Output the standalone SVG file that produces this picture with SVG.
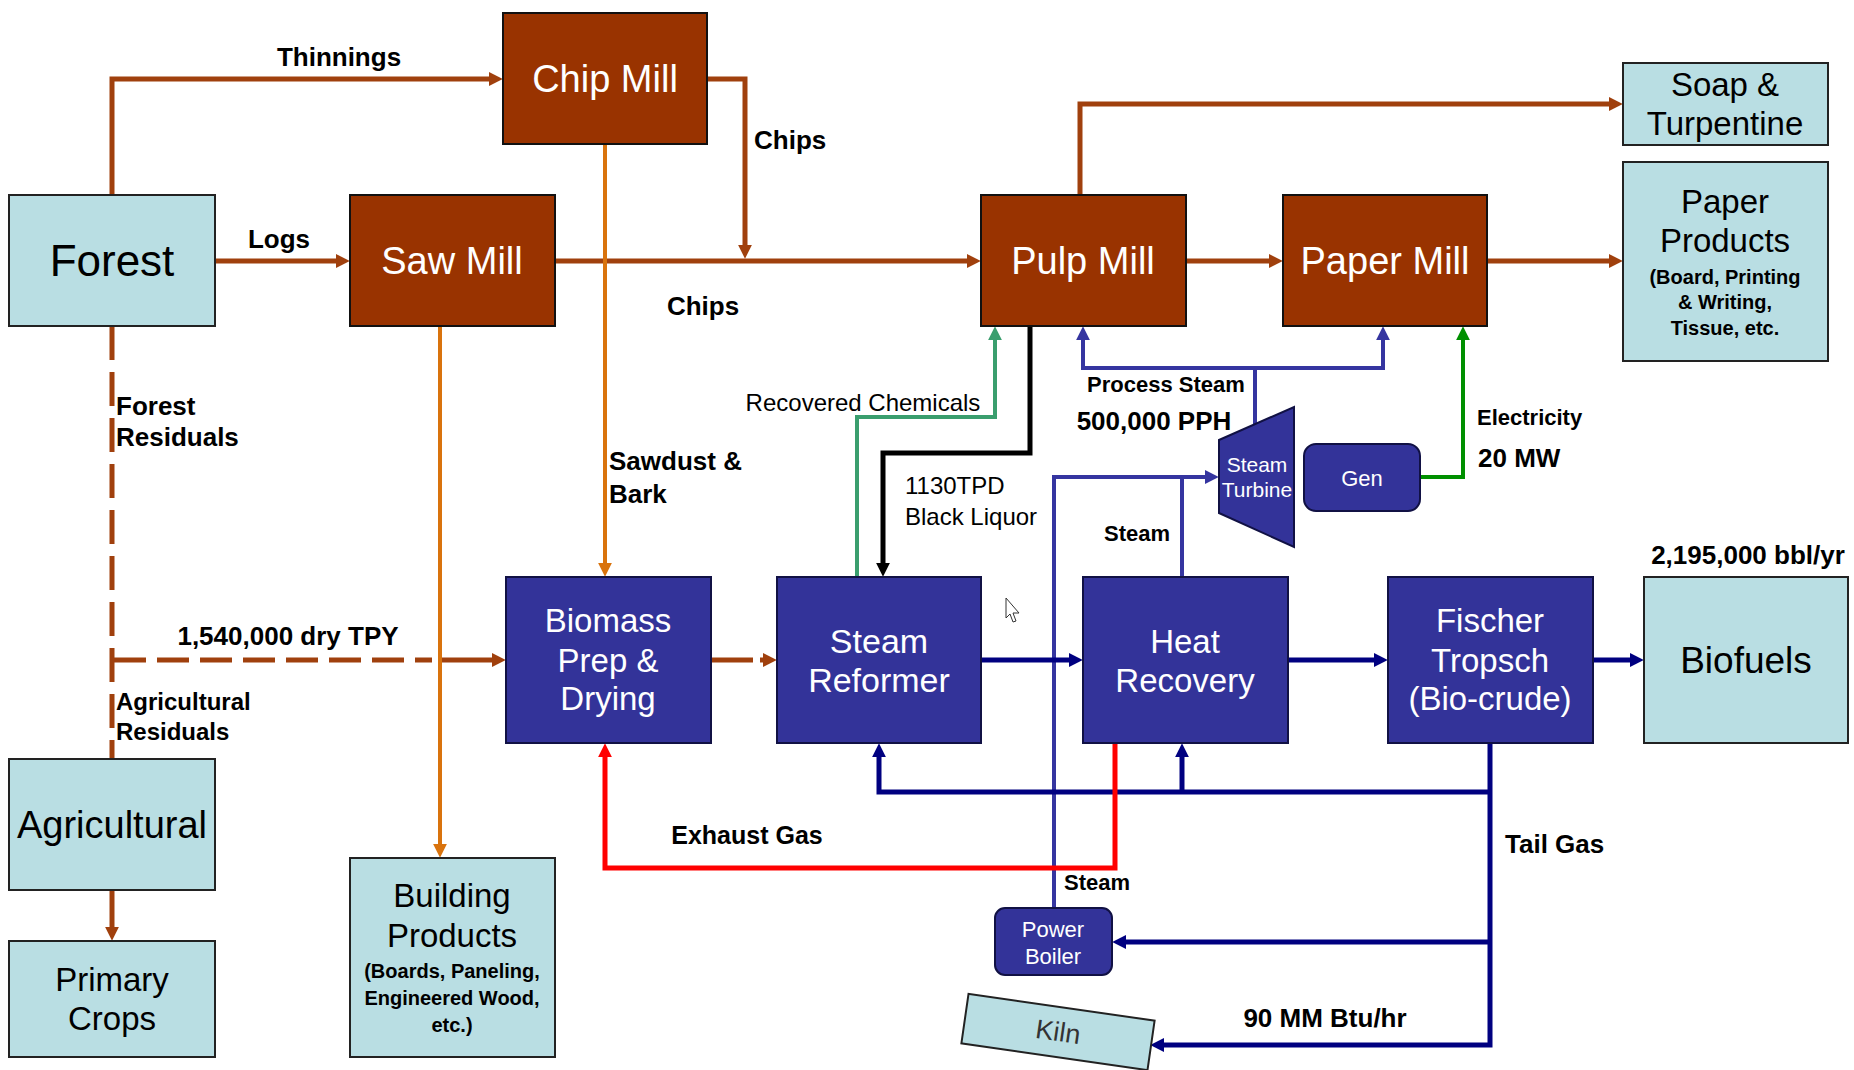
<svg xmlns="http://www.w3.org/2000/svg" width="1854" height="1070" viewBox="0 0 1854 1070">
<style>
text{font-family:"Liberation Sans",Arial,sans-serif}
.lb{fill:#B9DEE3;stroke:#222;stroke-width:2}
.br{fill:#993300;stroke:#111;stroke-width:2}
.bl{fill:#333399;stroke:#111144;stroke-width:2}
.tw{fill:#fff;text-anchor:middle}
.tk{fill:#000;text-anchor:middle}
.e{font-weight:bold;fill:#000}
.n{fill:#000}
.c{fill:none;stroke-linejoin:miter}
.brn{stroke:#A0400D;stroke-width:5}
.org{stroke:#D9730D;stroke-width:4}
.tea{stroke:#3A9E6E;stroke-width:4}
.blk{stroke:#000;stroke-width:5}
.blu{stroke:#3535A0;stroke-width:4}
.nav{stroke:#000080;stroke-width:5}
.grn{stroke:#009000;stroke-width:4}
.red{stroke:#FF0000;stroke-width:5}
</style>
<defs>
<marker id="aBrn" viewBox="0 0 10 10" refX="3" refY="5" markerUnits="userSpaceOnUse" markerWidth="14" markerHeight="14" orient="auto"><path d="M0,0 L10,5 L0,10 z" fill="#A0400D"/></marker>
<marker id="aOrg" viewBox="0 0 10 10" refX="3" refY="5" markerUnits="userSpaceOnUse" markerWidth="14" markerHeight="14" orient="auto"><path d="M0,0 L10,5 L0,10 z" fill="#D9730D"/></marker>
<marker id="aTea" viewBox="0 0 10 10" refX="3" refY="5" markerUnits="userSpaceOnUse" markerWidth="14" markerHeight="14" orient="auto"><path d="M0,0 L10,5 L0,10 z" fill="#3A9E6E"/></marker>
<marker id="aBlk" viewBox="0 0 10 10" refX="3" refY="5" markerUnits="userSpaceOnUse" markerWidth="14" markerHeight="14" orient="auto"><path d="M0,0 L10,5 L0,10 z" fill="#000"/></marker>
<marker id="aBlu" viewBox="0 0 10 10" refX="3" refY="5" markerUnits="userSpaceOnUse" markerWidth="14" markerHeight="14" orient="auto"><path d="M0,0 L10,5 L0,10 z" fill="#3535A0"/></marker>
<marker id="aNav" viewBox="0 0 10 10" refX="3" refY="5" markerUnits="userSpaceOnUse" markerWidth="14" markerHeight="14" orient="auto"><path d="M0,0 L10,5 L0,10 z" fill="#000080"/></marker>
<marker id="aGrn" viewBox="0 0 10 10" refX="3" refY="5" markerUnits="userSpaceOnUse" markerWidth="14" markerHeight="14" orient="auto"><path d="M0,0 L10,5 L0,10 z" fill="#009000"/></marker>
<marker id="aRed" viewBox="0 0 10 10" refX="3" refY="5" markerUnits="userSpaceOnUse" markerWidth="14" markerHeight="14" orient="auto"><path d="M0,0 L10,5 L0,10 z" fill="#FF0000"/></marker>
</defs>
<rect width="1854" height="1070" fill="#fff"/>

<g id="connectors">
<path class="c brn" d="M112,195 V79 H493" marker-end="url(#aBrn)"/>
<path class="c brn" d="M215,261 H340" marker-end="url(#aBrn)"/>
<path class="c brn" d="M707,79 H745 V249" marker-end="url(#aBrn)"/>
<path class="c brn" d="M555,261 H971" marker-end="url(#aBrn)"/>
<path class="c brn" d="M1080,195 V104 H1613" marker-end="url(#aBrn)"/>
<path class="c brn" d="M1186,261 H1273" marker-end="url(#aBrn)"/>
<path class="c brn" d="M1487,261 H1613" marker-end="url(#aBrn)"/>
<path class="c brn" d="M112,890 V931" marker-end="url(#aBrn)"/>
<path class="c brn" d="M112,326 V759" stroke-dasharray="34 12"/>
<path class="c brn" d="M114,660 H432" stroke-dasharray="32 11"/>
<path class="c brn" d="M442,660 H496" marker-end="url(#aBrn)"/>
<path class="c brn" d="M711,660 H753"/>
<path class="c brn" d="M760,660 H767" marker-end="url(#aBrn)"/>
<path class="c org" d="M605,144 V567" marker-end="url(#aOrg)"/>
<path class="c org" d="M440,326 V848" marker-end="url(#aOrg)"/>
<path class="c tea" d="M857,577 V417 H995 V336" marker-end="url(#aTea)"/>
<path class="c blk" d="M1030,326 V453 H883 V567" marker-end="url(#aBlk)"/>
<path class="c blu" d="M1255,426 V368"/>
<path class="c blu" d="M1257,368 H1083 V336" marker-end="url(#aBlu)"/>
<path class="c blu" d="M1253,368 H1383 V336" marker-end="url(#aBlu)"/>
<path class="c blu" d="M1054,908 V477 H1209" marker-end="url(#aBlu)"/>
<path class="c blu" d="M1182,577 V477"/>
<path class="c grn" d="M1420,477 H1463 V336" marker-end="url(#aGrn)"/>
<path class="c nav" d="M981,660 H1073" marker-end="url(#aNav)"/>
<path class="c nav" d="M1288,660 H1378" marker-end="url(#aNav)"/>
<path class="c nav" d="M1593,660 H1634" stroke-width="6" marker-end="url(#aNav)"/>
<path class="c nav" d="M1490,743 V1045 H1160" marker-end="url(#aNav)"/>
<path class="c nav" d="M1490,792 H879 V753" marker-end="url(#aNav)"/>
<path class="c nav" d="M1182,792 V753" marker-end="url(#aNav)"/>
<path class="c nav" d="M1490,942 H1122" marker-end="url(#aNav)"/>
<path class="c red" d="M1115,743 V868 H605 V753" marker-end="url(#aRed)"/>
</g>

<g id="labels">
<text class="e" x="339" y="66" font-size="26" text-anchor="middle">Thinnings</text>
<text class="e" x="279" y="248" font-size="26" text-anchor="middle">Logs</text>
<text class="e" x="754" y="149" font-size="26">Chips</text>
<text class="e" x="703" y="315" font-size="26" text-anchor="middle">Chips</text>
<text class="e" x="116" y="415" font-size="26">Forest</text>
<text class="e" x="116" y="446" font-size="26">Residuals</text>
<text class="e" x="609" y="470" font-size="26">Sawdust &amp;</text>
<text class="e" x="609" y="503" font-size="26">Bark</text>
<text class="e" x="288" y="645" font-size="26" text-anchor="middle">1,540,000 dry TPY</text>
<text class="e" x="116" y="710" font-size="24">Agricultural</text>
<text class="e" x="116" y="740" font-size="24">Residuals</text>
<text class="n" x="863" y="411" font-size="24" text-anchor="middle">Recovered Chemicals</text>
<text class="n" x="905" y="494" font-size="24">1130TPD</text>
<text class="n" x="905" y="525" font-size="24">Black Liquor</text>
<text class="e" x="1166" y="392" font-size="22" text-anchor="middle">Process Steam</text>
<text class="e" x="1154" y="430" font-size="26" text-anchor="middle">500,000 PPH</text>
<text class="e" x="1477" y="425" font-size="22">Electricity</text>
<text class="e" x="1478" y="467" font-size="26">20 MW</text>
<text class="e" x="1137" y="541" font-size="22" text-anchor="middle">Steam</text>
<text class="e" x="1748" y="564" font-size="26" text-anchor="middle">2,195,000 bbl/yr</text>
<text class="e" x="747" y="844" font-size="25" text-anchor="middle">Exhaust Gas</text>
<text class="e" x="1505" y="853" font-size="26">Tail Gas</text>
<text class="e" x="1097" y="890" font-size="22" text-anchor="middle">Steam</text>
<text class="e" x="1325" y="1027" font-size="26" text-anchor="middle">90 MM Btu/hr</text>
</g>

<g id="forest"><rect class="lb" x="9" y="195" width="206" height="131"/><text class="tk" x="112" y="276" font-size="44">Forest</text></g>
<g id="chip-mill"><rect class="br" x="503" y="13" width="204" height="131"/><text class="tw" x="605" y="92" font-size="38">Chip Mill</text></g>
<g id="saw-mill"><rect class="br" x="350" y="195" width="205" height="131"/><text class="tw" x="452" y="274" font-size="38">Saw Mill</text></g>
<g id="pulp-mill"><rect class="br" x="981" y="195" width="205" height="131"/><text class="tw" x="1083" y="274" font-size="38">Pulp Mill</text></g>
<g id="paper-mill"><rect class="br" x="1283" y="195" width="204" height="131"/><text class="tw" x="1385" y="274" font-size="38">Paper Mill</text></g>
<g id="soap"><rect class="lb" x="1623" y="63" width="205" height="82"/><text class="tk" x="1725" y="96" font-size="33">Soap &amp;</text><text class="tk" x="1725" y="135" font-size="33">Turpentine</text></g>
<g id="paper-products"><rect class="lb" x="1623" y="162" width="205" height="199"/>
<text class="tk" x="1725" y="213" font-size="33">Paper</text>
<text class="tk" x="1725" y="252" font-size="33">Products</text>
<text class="tk" x="1725" y="284" font-size="20" font-weight="bold">(Board, Printing</text>
<text class="tk" x="1725" y="309" font-size="20" font-weight="bold">&amp; Writing,</text>
<text class="tk" x="1725" y="335" font-size="20" font-weight="bold">Tissue, etc.</text></g>
<g id="biomass"><rect class="bl" x="506" y="577" width="205" height="166"/>
<text class="tw" x="608" y="632" font-size="33">Biomass</text>
<text class="tw" x="608" y="672" font-size="33">Prep &amp;</text>
<text class="tw" x="608" y="710" font-size="33">Drying</text></g>
<g id="steam-reformer"><rect class="bl" x="777" y="577" width="204" height="166"/>
<text class="tw" x="879" y="653" font-size="34">Steam</text>
<text class="tw" x="879" y="692" font-size="34">Reformer</text></g>
<g id="heat-recovery"><rect class="bl" x="1083" y="577" width="205" height="166"/>
<text class="tw" x="1185" y="653" font-size="33">Heat</text>
<text class="tw" x="1185" y="692" font-size="33">Recovery</text></g>
<g id="fischer-tropsch"><rect class="bl" x="1388" y="577" width="205" height="166"/>
<text class="tw" x="1490" y="632" font-size="33">Fischer</text>
<text class="tw" x="1490" y="672" font-size="33">Tropsch</text>
<text class="tw" x="1490" y="710" font-size="33">(Bio-crude)</text></g>
<g id="biofuels"><rect class="lb" x="1644" y="577" width="204" height="166"/><text class="tk" x="1746" y="673" font-size="37">Biofuels</text></g>
<g id="agricultural"><rect class="lb" x="9" y="759" width="206" height="131"/><text class="tk" x="112" y="838" font-size="38">Agricultural</text></g>
<g id="primary-crops"><rect class="lb" x="9" y="941" width="206" height="116"/>
<text class="tk" x="112" y="991" font-size="33">Primary</text>
<text class="tk" x="112" y="1030" font-size="33">Crops</text></g>
<g id="building-products"><rect class="lb" x="350" y="858" width="205" height="199"/>
<text class="tk" x="452" y="907" font-size="33">Building</text>
<text class="tk" x="452" y="947" font-size="33">Products</text>
<text class="tk" x="452" y="978" font-size="20" font-weight="bold">(Boards, Paneling,</text>
<text class="tk" x="452" y="1005" font-size="20" font-weight="bold">Engineered Wood,</text>
<text class="tk" x="452" y="1032" font-size="20" font-weight="bold">etc.)</text></g>
<g id="steam-turbine"><polygon class="bl" points="1219,440 1294,407 1294,547 1219,513"/>
<text class="tw" x="1257" y="472" font-size="21">Steam</text>
<text class="tw" x="1257" y="497" font-size="21">Turbine</text></g>
<g id="gen"><rect class="bl" x="1304" y="444" width="116" height="67" rx="12"/><text class="tw" x="1362" y="486" font-size="22">Gen</text></g>
<g id="power-boiler"><rect class="bl" x="995" y="908" width="117" height="67" rx="10"/>
<text class="tw" x="1053" y="937" font-size="22">Power</text>
<text class="tw" x="1053" y="964" font-size="22">Boiler</text></g>
<g id="kiln" transform="translate(1058,1032) rotate(8.2)"><rect class="lb" x="-94" y="-25" width="188" height="50"/><text x="0" y="9" font-size="27" fill="#333" text-anchor="middle">Kiln</text></g>

<path d="M1006,598 L1006,618 L1010,614 L1013,622 L1016,621 L1013,613 L1019,613 Z" fill="#fff" stroke="#333" stroke-width="1"/>
</svg>
